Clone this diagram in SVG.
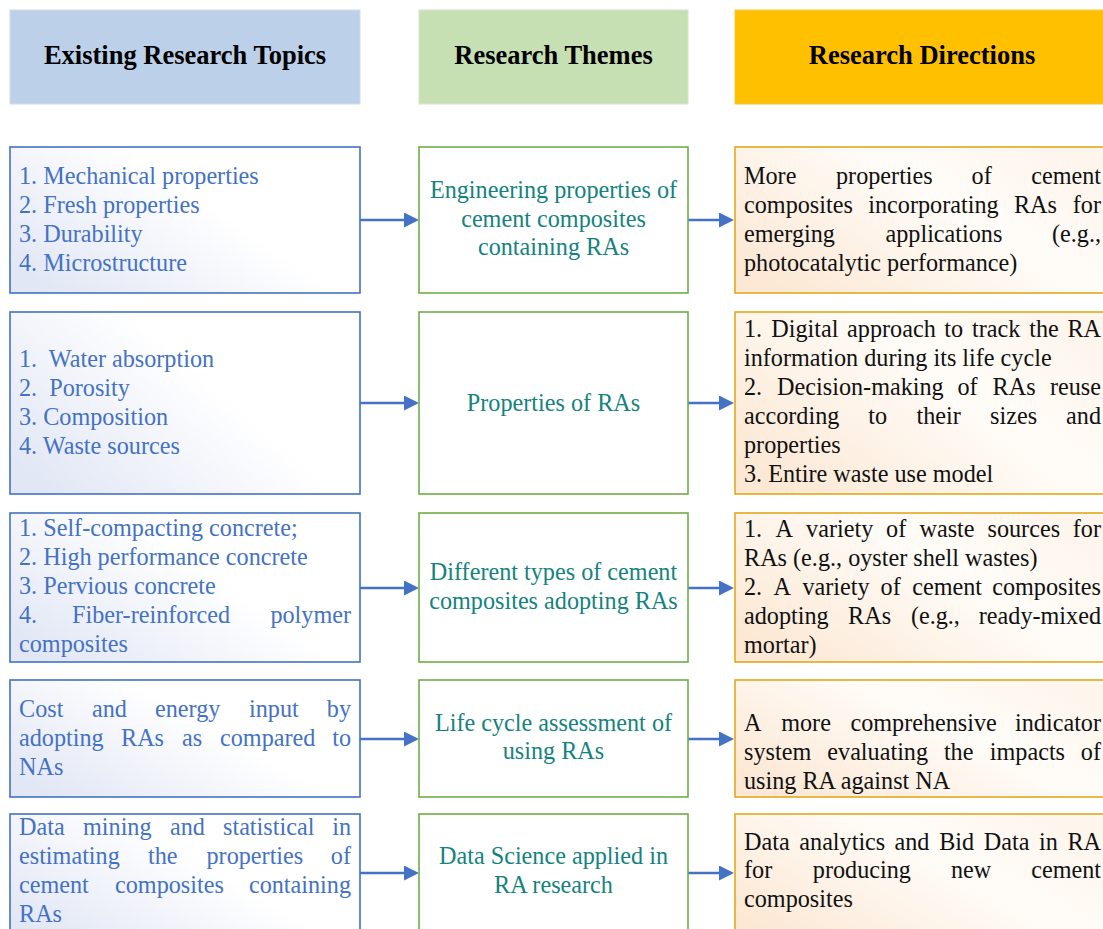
<svg xmlns="http://www.w3.org/2000/svg" width="1103" height="929" viewBox="0 0 1103 929">
<defs>
<style>
.t{font-family:"Liberation Serif","Times New Roman",serif;font-size:24.2px}
.lt{fill:#4472C4}
.mt{fill:#14837D;text-anchor:middle}
.rt{fill:#111111}
.e{text-anchor:end}
.hd{font-family:"Liberation Serif","Times New Roman",serif;font-size:26.5px;font-weight:bold;text-anchor:middle;fill:#000}
.lb{fill:url(#gl);stroke:#4472C4;stroke-width:1.6}
.mb{fill:#ffffff;stroke:#70AD47;stroke-width:1.6}
.rb{fill:url(#gr);stroke:#E3A81C;stroke-width:1.6}
.cn{stroke:#4472C4;stroke-width:2.5;fill:none;marker-end:url(#ah)}
</style>
<linearGradient id="gl" x1="0" y1="0.8" x2="1" y2="0.2">
<stop offset="0" stop-color="#E2E7F5"/>
<stop offset="0.6" stop-color="#FFFFFF"/>
<stop offset="1" stop-color="#FFFFFF"/>
</linearGradient>
<linearGradient id="gr" x1="0" y1="0.8" x2="1" y2="0.2">
<stop offset="0" stop-color="#FCE8D4"/>
<stop offset="0.6" stop-color="#FFFCF8"/>
<stop offset="1" stop-color="#FEF5EC"/>
</linearGradient>
<marker id="ah" markerUnits="userSpaceOnUse" markerWidth="15" markerHeight="15" refX="2" refY="7.5" orient="auto">
<path d="M0,0 L15,7.5 L0,15 Z" fill="#4472C4"/>
</marker>
</defs>
<rect width="1103" height="929" fill="#ffffff"/>

<g id="headers">
<g id="h1"><rect x="10" y="10" width="350" height="94" fill="#BDD0E9" stroke="#D3DCE8" stroke-width="1"/><text class="hd" x="185" y="64">Existing Research Topics</text></g>
<g id="h2"><rect x="419" y="10" width="269" height="94" fill="#C6E0B4" stroke="#D6E6CB" stroke-width="1"/><text class="hd" x="553.5" y="64">Research Themes</text></g>
<g id="h3"><rect x="735" y="10" width="380" height="94" fill="#FFC000" stroke="#F2C744" stroke-width="1"/><text class="hd" x="922" y="64">Research Directions</text></g>
</g>

<g id="connectors">
<path class="cn" d="M360,220 H406"/>
<path class="cn" d="M688,220 H721"/>
<path class="cn" d="M360,403 H406"/>
<path class="cn" d="M688,403 H721"/>
<path class="cn" d="M360,588 H406"/>
<path class="cn" d="M688,588 H721"/>
<path class="cn" d="M360,739 H406"/>
<path class="cn" d="M688,739 H721"/>
<path class="cn" d="M360,873 H406"/>
<path class="cn" d="M688,873 H721"/>
</g>

<g id="topic1"><rect class="lb" x="10" y="147" width="350" height="146"/>
<text class="t lt" x="19" y="184">1. Mechanical properties</text>
<text class="t lt" x="19" y="213">2. Fresh properties</text>
<text class="t lt" x="19" y="242">3. Durability</text>
<text class="t lt" x="19" y="271">4. Microstructure</text>
</g>
<g id="topic2"><rect class="lb" x="10" y="312" width="350" height="182"/>
<text class="t lt" x="19" y="367">1.&#160; Water absorption</text>
<text class="t lt" x="19" y="396">2.&#160; Porosity</text>
<text class="t lt" x="19" y="425">3. Composition</text>
<text class="t lt" x="19" y="454">4. Waste sources</text>
</g>
<g id="topic3"><rect class="lb" x="10" y="513" width="350" height="149"/>
<text class="t lt" x="19" y="536">1. Self-compacting concrete;</text>
<text class="t lt" x="19" y="565">2. High performance concrete</text>
<text class="t lt" x="19" y="594">3. Pervious concrete</text>
<text class="t lt" y="623"><tspan x="19">4.</tspan><tspan x="72">Fiber-reinforced</tspan></text><text class="t lt e" x="351" y="623">polymer</text>
<text class="t lt" x="19" y="652">composites</text>
</g>
<g id="topic4"><rect class="lb" x="10" y="680" width="350" height="117"/>
<text class="t lt" y="717"><tspan x="19">Cost</tspan><tspan x="92">and</tspan><tspan x="155">energy</tspan><tspan x="249">input</tspan></text><text class="t lt e" x="351" y="717">by</text>
<text class="t lt" y="746"><tspan x="19">adopting</tspan><tspan x="121">RAs</tspan><tspan x="182">as</tspan><tspan x="220">compared</tspan></text><text class="t lt e" x="351" y="746">to</text>
<text class="t lt" x="19" y="775">NAs</text>
</g>
<g id="topic5"><rect class="lb" x="10" y="814" width="350" height="130"/>
<text class="t lt" y="835"><tspan x="19">Data</tspan><tspan x="83">mining</tspan><tspan x="170">and</tspan><tspan x="223">statistical</tspan></text><text class="t lt e" x="351" y="835">in</text>
<text class="t lt" y="864"><tspan x="19">estimating</tspan><tspan x="148">the</tspan><tspan x="206.5">properties</tspan></text><text class="t lt e" x="351" y="864">of</text>
<text class="t lt" y="893"><tspan x="19">cement</tspan><tspan x="115">composites</tspan></text><text class="t lt e" x="351" y="893">containing</text>
<text class="t lt" x="19" y="922">RAs</text>
</g>

<g id="theme1"><rect class="mb" x="419" y="147" width="269" height="146"/>
<text class="t mt" x="553.5" y="198">Engineering properties of</text>
<text class="t mt" x="553.5" y="227">cement composites</text>
<text class="t mt" x="553.5" y="255">containing RAs</text>
</g>
<g id="theme2"><rect class="mb" x="419" y="312" width="269" height="182"/>
<text class="t mt" x="553.5" y="411">Properties of RAs</text>
</g>
<g id="theme3"><rect class="mb" x="419" y="513" width="269" height="149"/>
<text class="t mt" x="553.5" y="580">Different types of cement</text>
<text class="t mt" x="553.5" y="609">composites adopting RAs</text>
</g>
<g id="theme4"><rect class="mb" x="419" y="680" width="269" height="117"/>
<text class="t mt" x="553.5" y="731">Life cycle assessment of</text>
<text class="t mt" x="553.5" y="759">using RAs</text>
</g>
<g id="theme5"><rect class="mb" x="419" y="814" width="269" height="130"/>
<text class="t mt" x="553.5" y="864">Data Science applied in</text>
<text class="t mt" x="553.5" y="893">RA research</text>
</g>

<g id="direction1"><rect class="rb" x="735" y="147" width="380" height="146"/>
<text class="t rt" y="184"><tspan x="744">More</tspan><tspan x="836">properties</tspan><tspan x="971.6">of</tspan></text><text class="t rt e" x="1101" y="184">cement</text>
<text class="t rt" y="213"><tspan x="744">composites</tspan><tspan x="868.3">incorporating</tspan><tspan x="1013.9">RAs</tspan></text><text class="t rt e" x="1101" y="213">for</text>
<text class="t rt" y="242"><tspan x="744">emerging</tspan><tspan x="885.5">applications</tspan></text><text class="t rt e" x="1101" y="242">(e.g.,</text>
<text class="t rt" x="744" y="271">photocatalytic performance)</text>
</g>
<g id="direction2"><rect class="rb" x="735" y="312" width="380" height="182"/>
<text class="t rt" y="337"><tspan x="744">1.</tspan><tspan x="771.2">Digital</tspan><tspan x="847.1">approach</tspan><tspan x="944.2">to</tspan><tspan x="972.1">track</tspan><tspan x="1029.2">the</tspan></text><text class="t rt e" x="1101" y="337">RA</text>
<text class="t rt" x="744" y="366">information during its life cycle</text>
<text class="t rt" y="395"><tspan x="744">2.</tspan><tspan x="777.1">Decision-making</tspan><tspan x="957.5">of</tspan><tspan x="992.6">RAs</tspan></text><text class="t rt e" x="1101" y="395">reuse</text>
<text class="t rt" y="424"><tspan x="744">according</tspan><tspan x="868.2">to</tspan><tspan x="916.5">their</tspan><tspan x="990.1">sizes</tspan></text><text class="t rt e" x="1101" y="424">and</text>
<text class="t rt" x="744" y="453">properties</text>
<text class="t rt" x="744" y="482">3. Entire waste use model</text>
</g>
<g id="direction3"><rect class="rb" x="735" y="513" width="380" height="149"/>
<text class="t rt" y="537"><tspan x="744">1.</tspan><tspan x="775.4">A</tspan><tspan x="806.1">variety</tspan><tspan x="886.1">of</tspan><tspan x="919.5">waste</tspan><tspan x="987.5">sources</tspan></text><text class="t rt e" x="1101" y="537">for</text>
<text class="t rt" x="744" y="566">RAs (e.g., oyster shell wastes)</text>
<text class="t rt" y="595"><tspan x="744">2.</tspan><tspan x="773.6">A</tspan><tspan x="802.4">variety</tspan><tspan x="880.6">of</tspan><tspan x="912.2">cement</tspan></text><text class="t rt e" x="1101" y="595">composites</text>
<text class="t rt" y="624"><tspan x="744">adopting</tspan><tspan x="848.1">RAs</tspan><tspan x="910.9">(e.g.,</tspan></text><text class="t rt e" x="1101" y="624">ready-mixed</text>
<text class="t rt" x="744" y="653">mortar)</text>
</g>
<g id="direction4"><rect class="rb" x="735" y="680" width="380" height="117"/>
<text class="t rt" y="731"><tspan x="744">A</tspan><tspan x="781.2">more</tspan><tspan x="850.4">comprehensive</tspan></text><text class="t rt e" x="1101" y="731">indicator</text>
<text class="t rt" y="760"><tspan x="744">system</tspan><tspan x="827.3">evaluating</tspan><tspan x="943.9">the</tspan><tspan x="989.8">impacts</tspan></text><text class="t rt e" x="1101" y="760">of</text>
<text class="t rt" x="744" y="789">using RA against NA</text>
</g>
<g id="direction5"><rect class="rb" x="735" y="814" width="380" height="130"/>
<text class="t rt" y="850"><tspan x="744">Data</tspan><tspan x="799.3">analytics</tspan><tspan x="894.5">and</tspan><tspan x="939.2">Bid</tspan><tspan x="983.8">Data</tspan><tspan x="1039.1">in</tspan></text><text class="t rt e" x="1101" y="850">RA</text>
<text class="t rt" y="878"><tspan x="744">for</tspan><tspan x="812.8">producing</tspan><tspan x="950.9">new</tspan></text><text class="t rt e" x="1101" y="878">cement</text>
<text class="t rt" x="744" y="907">composites</text>
</g>
</svg>
